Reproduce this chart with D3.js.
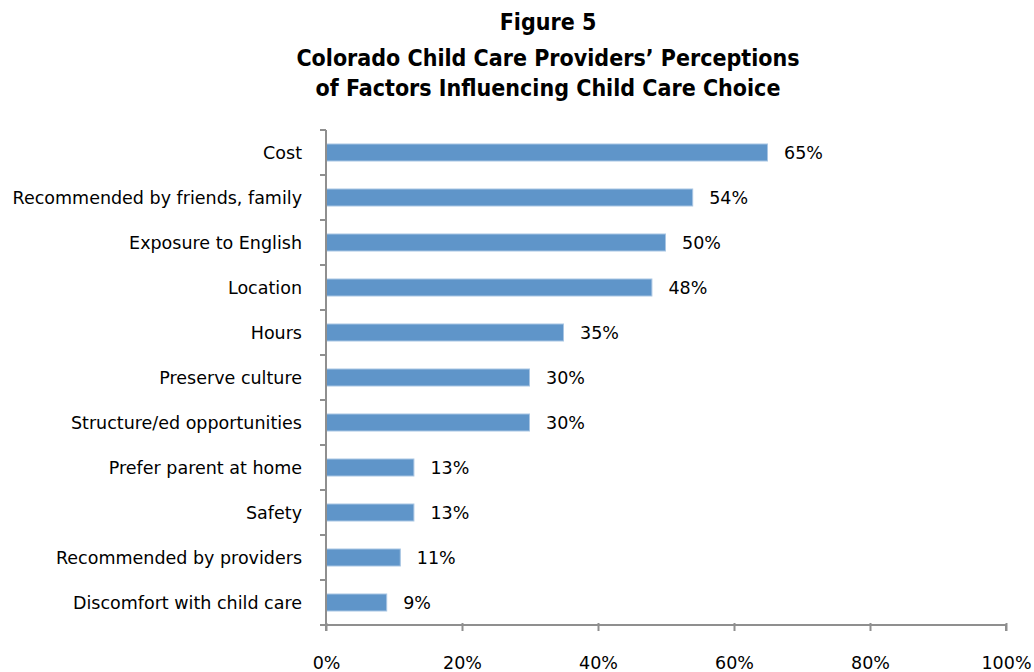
<!DOCTYPE html>
<html><head><meta charset="utf-8">
<script src="https://cdn.jsdelivr.net/npm/d3@7"></script>
<style>body{margin:0;background:#fff}</style>
</head><body><svg id="c" width="1034" height="672"></svg>
<script>
const titleLines = ["Figure 5", "Colorado Child Care Providers\u2019 Perceptions", "of Factors Influencing Child Care Choice"];
const categories = ["Cost","Recommended by friends, family","Exposure to English","Location","Hours","Preserve culture","Structure/ed opportunities","Prefer parent at home","Safety","Recommended by providers","Discomfort with child care"];
const values = [65,54,50,48,35,30,30,13,13,11,9];
const xTicks = [0,20,40,60,80,100];

(function(){
const svg = d3.select("#c");
const pL = 326, pR = 1006, pT = 130, pB = 625;
const x = d3.scaleLinear().domain([0,100]).range([pL,pR]);
const y = d3.scaleBand().domain(categories).range([pT,pB]).paddingInner(0.6).paddingOuter(0.3);
const yb = d3.scaleBand().domain(categories).range([pT,pB]);

const tf = "'DejaVu Sans Condensed',sans-serif";
svg.append("g").selectAll("text").data(titleLines).join("text")
  .attr("x",548).attr("y",(d,i)=>[30,66,96][i])
  .attr("text-anchor","middle").attr("font-family",tf).attr("font-weight","bold")
  .attr("font-size",23).attr("fill","#000").text(d=>d);

const axisColor = "#8f8f8f";
svg.append("g").selectAll("rect").data(values).join("rect")
  .attr("x",x(0)).attr("y",(d,i)=>y(categories[i])+0.5)
  .attr("width",d=>x(d)-x(0)-0.5).attr("height",y.bandwidth()-1)
  .attr("fill","#5F95C9").attr("stroke","#A8C5E3").attr("stroke-width",1);
const lf = "'DejaVu Sans',sans-serif";
const fs = 17.5;
svg.append("g").selectAll("text").data(values).join("text")
  .attr("x",d=>x(d)+16).attr("y",(d,i)=>y(categories[i])+y.bandwidth()/2)
  .attr("dy","0.36em").attr("font-family",lf).attr("font-size",fs).attr("fill","#000")
  .text(d=>d+"%");
const yAxisG = svg.append("g").attr("transform",`translate(${pL},0)`);
yAxisG.append("line").attr("x1",0).attr("x2",0).attr("y1",pT).attr("y2",pB+6).attr("stroke",axisColor).attr("stroke-width",2);
const yTickPos = categories.map(c=>yb(c)).concat([pB]);
yAxisG.selectAll("line.t").data(yTickPos).join("line").attr("class","t")
  .attr("x1",-6).attr("x2",0).attr("y1",d=>d).attr("y2",d=>d).attr("stroke",axisColor).attr("stroke-width",2);
svg.append("g").selectAll("text").data(categories).join("text")
  .attr("x",302).attr("y",d=>yb(d)+yb.bandwidth()/2).attr("dy","0.36em")
  .attr("text-anchor","end").attr("font-family",lf).attr("font-size",fs).attr("fill","#000").text(d=>d);
const xAxis = d3.axisBottom(x).tickValues(xTicks).tickSize(6).tickFormat(d=>d+"%");
const xg = svg.append("g").attr("transform",`translate(0,${pB})`).call(xAxis);
xg.select(".domain").attr("stroke",axisColor).attr("stroke-width",2).attr("d",`M${pL},0H${pR}V6`);
xg.selectAll(".tick line").attr("stroke",axisColor).attr("stroke-width",2).attr("y1",-2);
xg.selectAll(".tick text").attr("font-family",lf).attr("font-size",fs).attr("fill","#000").attr("y",38).attr("dy","0.36em");
})();
</script></body></html>
